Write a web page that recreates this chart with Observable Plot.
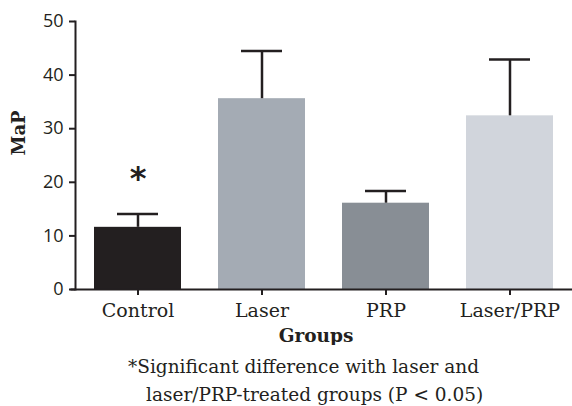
<!DOCTYPE html>
<html>
<head>
<meta charset="utf-8">
<script src="https://cdn.jsdelivr.net/npm/d3@7"></script>
<script src="https://cdn.jsdelivr.net/npm/@observablehq/plot@0.6"></script>
<style>
  body { margin: 0; background: #fff; }
  #chart { width: 572px; }
  .cap { font-family: "DejaVu Serif", serif; font-size: 18.5px; line-height: 28px; color: #231f20; white-space: nowrap; }
  .l1 { padding-left: 128px; margin-top: 8px; }
  .l2 { padding-left: 146px; }
</style>
</head>
<body>
<div id="chart"></div>
<div class="cap l1">*Significant difference with laser and</div>
<div class="cap l2">laser/PRP-treated groups (P &lt; 0.05)</div>
<script>
const groups = ["Control", "Laser", "PRP", "Laser/PRP"];
const means = [11.6, 35.6, 16.1, 32.4];
const errors = [2.5, 8.9, 2.3, 10.5];
const marks = ["*", "", "", ""];
const colors = ["#231f20", "#a4abb4", "#888e95", "#d1d5dc"];
const yTicks = [0, 10, 20, 30, 40, 50];

const data = groups.map((g, i) => ({group: g, mean: means[i], upper: means[i] + errors[i], mark: marks[i]}));
const ink = "#231f20";

const chart = Plot.plot({
  width: 572,
  height: 345,
  marginLeft: 75,
  marginRight: 0,
  marginTop: 21,
  marginBottom: 56,
  style: {background: "#fff", color: ink},
  x: {domain: groups, paddingInner: 0.3, paddingOuter: 0.15, label: null},
  y: {domain: [0, 50], label: null},
  color: {domain: groups, range: colors},
  marks: [
    Plot.barY(data, {x: "group", y: "mean", fill: "group"}),
    Plot.ruleX(data, {x: "group", y1: "mean", y2: "upper", stroke: ink, strokeWidth: 2.5}),
    Plot.tickY(data, {x: "group", y: "upper", stroke: ink, strokeWidth: 2.5, insetLeft: 23, insetRight: 23}),
    Plot.text(data, {x: "group", y: "upper", text: "mark", dy: -35, fontSize: 32, fontWeight: "bold", fontFamily: "DejaVu Sans", fill: ink}),
    Plot.axisY(yTicks, {tickSize: 6, tickPadding: 6, strokeWidth: 2, stroke: ink, fontSize: 18, fontFamily: "Open Sans", fill: ink, label: null}),
    Plot.axisX({tickSize: 6, tickPadding: 8, strokeWidth: 2, stroke: ink, fontSize: 19, fontFamily: "DejaVu Serif", fill: ink, label: null}),
    Plot.frame({anchor: "left", stroke: ink, strokeWidth: 2}),
    Plot.frame({anchor: "bottom", stroke: ink, strokeWidth: 2, insetLeft: -4}),
    Plot.text(["Groups"], {frameAnchor: "bottom", dx: -8, dy: 52, fontSize: 18.5, fontWeight: "bold", fontFamily: "DejaVu Serif", fill: ink}),
    Plot.text(["MaP"], {frameAnchor: "left", rotate: -90, dx: -56, fontSize: 18, fontWeight: "bold", fontFamily: "DejaVu Serif", fill: ink})
  ]
});
document.getElementById("chart").appendChild(chart);
</script>
</body>
</html>
